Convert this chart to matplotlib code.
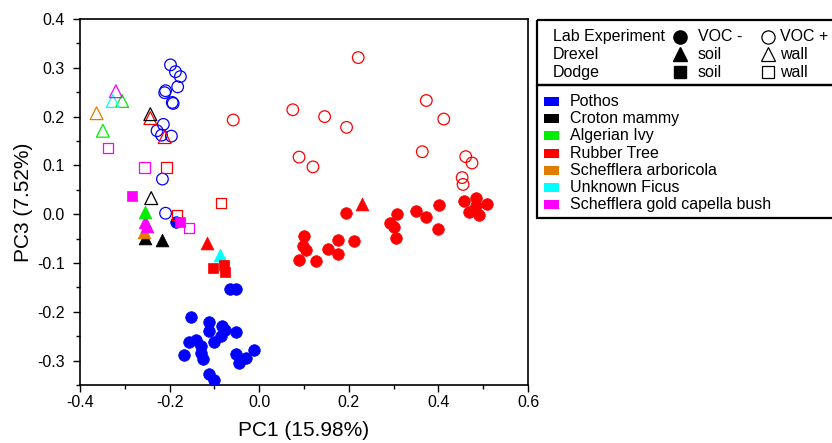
import matplotlib
matplotlib.use("Agg")
import matplotlib.pyplot as plt
from matplotlib.patches import Rectangle
from matplotlib.ticker import MultipleLocator, FormatStrFormatter

plt.rcParams['font.family'] = ['Liberation Sans', 'DejaVu Sans']
plt.rcParams['axes.unicode_minus'] = False

# Pothos
pothos_lab_neg_x = [-0.066, -0.052, -0.153, -0.113, -0.113, -0.083, -0.076, -0.051, -0.085, -0.100,
                    -0.156, -0.140, -0.131, -0.130, -0.168, -0.126, -0.051, -0.011, -0.029, -0.044,
                    -0.111, -0.102, -0.185]
pothos_lab_neg_y = [-0.153, -0.153, -0.211, -0.220, -0.240, -0.230, -0.237, -0.242, -0.250, -0.261,
                    -0.262, -0.257, -0.271, -0.284, -0.288, -0.297, -0.286, -0.279, -0.295, -0.304,
                    -0.327, -0.339, -0.015]
pothos_lab_pos_x = [-0.198, -0.187, -0.176, -0.182, -0.209, -0.211, -0.194, -0.192, -0.214, -0.228,
                    -0.196, -0.216, -0.209, -0.218]
pothos_lab_pos_y = [0.306, 0.292, 0.282, 0.261, 0.253, 0.249, 0.229, 0.227, 0.184, 0.171,
                    0.160, 0.072, 0.002, 0.162]

# Rubber Tree
rubber_lab_neg_x = [0.193, 0.099, 0.097, 0.105, 0.088, 0.127, 0.153, 0.175, 0.177, 0.212,
                    0.307, 0.292, 0.301, 0.305, 0.351, 0.372, 0.402, 0.400, 0.457, 0.483,
                    0.485, 0.468, 0.490, 0.509]
rubber_lab_neg_y = [0.003, -0.044, -0.066, -0.074, -0.093, -0.095, -0.071, -0.052, -0.082, -0.055,
                    0.000, -0.018, -0.026, -0.048, 0.006, -0.005, 0.019, -0.030, 0.028, 0.033,
                    0.016, 0.004, -0.001, 0.021]
rubber_lab_pos_x = [-0.058, 0.221, 0.075, 0.146, 0.195, 0.089, 0.120, 0.373, 0.412, 0.364,
                    0.461, 0.475, 0.453, 0.455]
rubber_lab_pos_y = [0.193, 0.321, 0.214, 0.200, 0.178, 0.117, 0.097, 0.233, 0.195, 0.128,
                    0.118, 0.105, 0.075, 0.061]
rubber_drexel_soil_x = [0.230, -0.116]
rubber_drexel_soil_y = [0.021, -0.059]
rubber_drexel_wall_x = [-0.243, -0.211]
rubber_drexel_wall_y = [0.197, 0.158]
rubber_dodge_soil_x = [-0.104, -0.079, -0.077]
rubber_dodge_soil_y = [-0.110, -0.104, -0.119]
rubber_dodge_wall_x = [-0.207, -0.086, -0.183]
rubber_dodge_wall_y = [0.096, 0.023, -0.001]

# Croton mammy
croton_drexel_soil_x = [-0.256, -0.218]
croton_drexel_soil_y = [-0.049, -0.053]
croton_drexel_wall_x = [-0.243, -0.241]
croton_drexel_wall_y = [0.205, 0.033]

# Algerian Ivy
ivy_drexel_soil_x = [-0.254]
ivy_drexel_soil_y = [0.005]
ivy_drexel_wall_x = [-0.306, -0.349]
ivy_drexel_wall_y = [0.232, 0.171]

# Schefflera arboricola
arbor_drexel_soil_x = [-0.257]
arbor_drexel_soil_y = [-0.037]
arbor_drexel_wall_x = [-0.363]
arbor_drexel_wall_y = [0.207]

# Unknown Ficus
ficus_drexel_soil_x = [-0.088]
ficus_drexel_soil_y = [-0.083]
ficus_drexel_wall_x = [-0.327]
ficus_drexel_wall_y = [0.232]

# Schefflera gold capella bush
capella_drexel_soil_x = [-0.254, -0.251]
capella_drexel_soil_y = [-0.015, -0.025]
capella_drexel_wall_x = [-0.320]
capella_drexel_wall_y = [0.252]
capella_dodge_soil_x = [-0.283, -0.176]
capella_dodge_soil_y = [0.038, -0.015]
capella_dodge_wall_x = [-0.338, -0.256, -0.156]
capella_dodge_wall_y = [0.135, 0.096, -0.028]

species = ["Pothos", "Croton mammy", "Algerian Ivy", "Rubber Tree",
           "Schefflera arboricola", "Unknown Ficus", "Schefflera gold capella bush"]
colors = ["#0000ff", "#000000", "#00ee00", "#ff0000", "#e07c00", "#00ffff", "#ff00ff"]
c = dict(zip(species, colors))

series = [
    (pothos_lab_neg_x, pothos_lab_neg_y, c["Pothos"], "o", True),
    (pothos_lab_pos_x, pothos_lab_pos_y, c["Pothos"], "o", False),
    (rubber_lab_neg_x, rubber_lab_neg_y, c["Rubber Tree"], "o", True),
    (rubber_lab_pos_x, rubber_lab_pos_y, c["Rubber Tree"], "o", False),
    (rubber_drexel_wall_x, rubber_drexel_wall_y, c["Rubber Tree"], "^", False),
    (croton_drexel_wall_x, croton_drexel_wall_y, c["Croton mammy"], "^", False),
    (ivy_drexel_wall_x, ivy_drexel_wall_y, c["Algerian Ivy"], "^", False),
    (arbor_drexel_wall_x, arbor_drexel_wall_y, c["Schefflera arboricola"], "^", False),
    (ficus_drexel_wall_x, ficus_drexel_wall_y, c["Unknown Ficus"], "^", False),
    (capella_drexel_wall_x, capella_drexel_wall_y, c["Schefflera gold capella bush"], "^", False),
    (rubber_dodge_wall_x, rubber_dodge_wall_y, c["Rubber Tree"], "s", False),
    (capella_dodge_wall_x, capella_dodge_wall_y, c["Schefflera gold capella bush"], "s", False),
    (croton_drexel_soil_x, croton_drexel_soil_y, c["Croton mammy"], "^", True),
    (arbor_drexel_soil_x, arbor_drexel_soil_y, c["Schefflera arboricola"], "^", True),
    (capella_drexel_soil_x, capella_drexel_soil_y, c["Schefflera gold capella bush"], "^", True),
    (ivy_drexel_soil_x, ivy_drexel_soil_y, c["Algerian Ivy"], "^", True),
    (rubber_drexel_soil_x, rubber_drexel_soil_y, c["Rubber Tree"], "^", True),
    (ficus_drexel_soil_x, ficus_drexel_soil_y, c["Unknown Ficus"], "^", True),
    (rubber_dodge_soil_x, rubber_dodge_soil_y, c["Rubber Tree"], "s", True),
    (capella_dodge_soil_x, capella_dodge_soil_y, c["Schefflera gold capella bush"], "s", True),
]
sizes = {"o": 70, "^": 85, "s": 55}

fig = plt.figure(figsize=(8.32, 4.43), dpi=100)
ax = fig.add_axes([80 / 832, 1 - 385 / 443, 448 / 832, 366 / 443])

for x, y, col, m, filled in series:
    if filled:
        ax.scatter(x, y, s=sizes[m], marker=m, facecolor=col, edgecolor=col, linewidth=0.5, zorder=3)
    else:
        ax.scatter(x, y, s=sizes[m], marker=m, facecolor="none", edgecolor=col, linewidth=0.9, zorder=3)

ax.set_xlim(-0.4, 0.6)
ax.set_ylim(-0.35, 0.4)
ax.xaxis.set_major_locator(MultipleLocator(0.2))
ax.xaxis.set_minor_locator(MultipleLocator(0.1))
ax.yaxis.set_major_locator(MultipleLocator(0.1))
ax.yaxis.set_minor_locator(MultipleLocator(0.05))
ax.xaxis.set_major_formatter(FormatStrFormatter("%.1f"))
ax.yaxis.set_major_formatter(FormatStrFormatter("%.1f"))
ax.tick_params(which="both", direction="out", top=False, right=False, width=1.0, labelsize=11.5)
ax.tick_params(axis="y", which="major", length=5, pad=6)
ax.tick_params(axis="x", which="major", length=5, pad=2)
ax.tick_params(which="minor", length=3)
for s in ax.spines.values():
    s.set_linewidth(1.2)
ax.set_xlabel("PC1 (15.98%)", fontsize=15, labelpad=8)
ax.set_ylabel("PC3 (7.52%)", fontsize=15, labelpad=3)

# legend boxes drawn in pixel space
lax = fig.add_axes([0, 0, 1, 1])
lax.set_xlim(0, 832)
lax.set_ylim(443, 0)
lax.axis("off")
lax.patch.set_alpha(0)
lax.add_patch(Rectangle((537, 20), 320, 65, fill=False, lw=1.6, ec="black", clip_on=False))
lax.add_patch(Rectangle((537, 85), 320, 133, fill=False, lw=1.6, ec="black", clip_on=False))

rows = ["Lab Experiment", "Drexel", "Dodge"]
neg_txt = ["VOC -", "soil", "soil"]
pos_txt = ["VOC +", "wall", "wall"]
marks = ["o", "^", "s"]
msz = [9.5, 10, 9]
for i in range(3):
    yy = 36.5 + i * 17.8
    lax.text(553, yy, rows[i], fontsize=11.5, va="center", ha="left")
    lax.plot([680], [yy], marker=marks[i], ms=msz[i], color="black", ls="none")
    lax.text(698, yy, neg_txt[i], fontsize=11.5, va="center", ha="left")
    lax.plot([768], [yy], marker=marks[i], ms=msz[i], mfc="none", mec="black", mew=0.9, ls="none")
    lax.text(780, yy, pos_txt[i], fontsize=11.5, va="center", ha="left")

for i, (name, col) in enumerate(zip(species, colors)):
    yy = 101.5 + i * 17.2
    lax.add_patch(Rectangle((544, yy - 4.5), 15, 9, fc=col, ec="none"))
    lax.text(570, yy, name, fontsize=11.5, va="center", ha="left")

fig.savefig("out.png", dpi=100)
